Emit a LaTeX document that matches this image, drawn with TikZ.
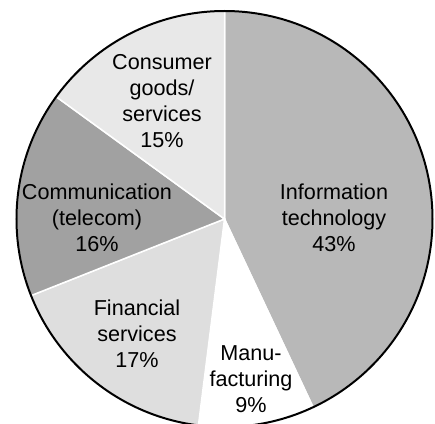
\documentclass[tikz,border=0pt]{standalone}
\usepackage{fontspec}
\setmainfont{Liberation Sans}

\begin{document}
\begin{tikzpicture}[x=0.5pt,y=0.5pt]

\tikzset{slice/.style={fill=#1, draw=white, line width=0.75pt},
share/.style={align=center, inner sep=0pt, font=\fontsize{10.8}{13}\selectfont}}

\useasboundingbox (0,0) rectangle (435,424);

\coordinate (o) at (224.5,205);

% start angle / end angle / shade, clockwise from the top
\foreach \s/\e/\col in {90/-64.8/black!28, -64.8/-97.2/white, -97.2/-158.4/black!13, -158.4/-216/black!37, -216/-270/black!9}
\filldraw[slice=\col] (o) -- ++(\s:208) arc (\s:\e:208) -- cycle;

\draw[line width=1pt] (o) circle (208);

\node[share] (infotech) at (334,206) {Information\\technology\\43\%};
\node[share] (manuf) at (251,45) {Manu-\\facturing\\9\%};
\node[share] (financial) at (137,90) {Financial\\services\\17\%};
\node[share] (telecom) at (97,206) {Communication\\(telecom)\\16\%};
\node[share] (consumer) at (162,323) {Consumer\\goods/\\services\\15\%};

\end{tikzpicture}
\end{document}
